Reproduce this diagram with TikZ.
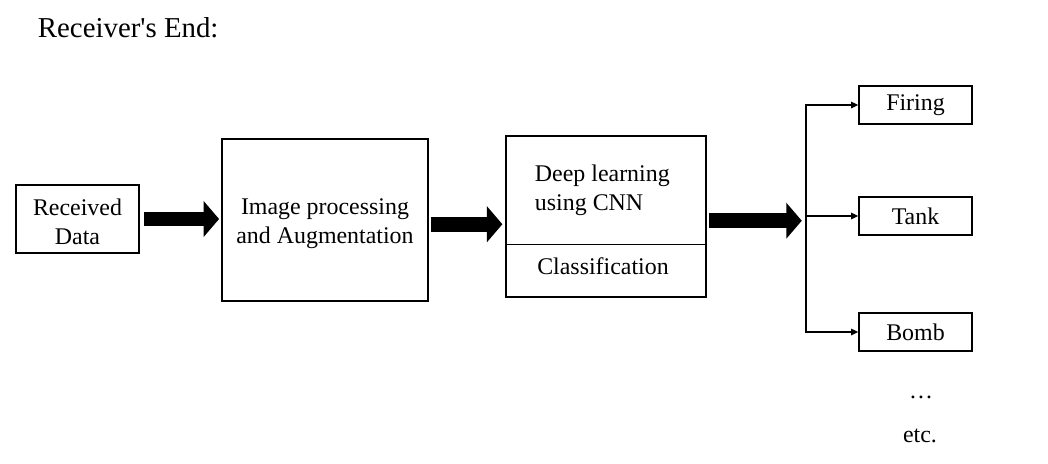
\documentclass[tikz,border=0pt]{standalone}
\usepackage{fontspec}
\setmainfont{Liberation Serif}
\usetikzlibrary{arrows.meta,positioning}

\begin{document}
\begin{tikzpicture}[x=0.025cm, y=-0.025cm,
  box/.style={rectangle, draw, line width=1.1pt, align=center,
    font=\fontsize{17}{20.5}\selectfont},
  label/.style={font=\fontsize{17}{20.5}\selectfont},
  fatarrow/.style={line width=10.5pt, -{Triangle[length=11pt,width=25pt]}},
  branch/.style={line width=1.1pt, -{Triangle[length=5pt,width=4.5pt]}},
]
  \useasboundingbox (0,0) rectangle (1048,463);

  \node[anchor=west, font=\fontsize{20.5}{24}\selectfont] (title) at (33,28)
    {Receiver\textquotesingle s End:};

  % processing chain
  \node[box, minimum width=3.075cm, minimum height=1.7cm] (recv) at (77.5,219) {};
  \node[label, align=center] (recvtext) at (77.5,222) {Received\\Data};
  \node[box, minimum width=5.15cm, minimum height=4.05cm] (img) at (325,220) {};
  \node[label, align=center] (imgtext) at (325,224) {Image processing\\and Augmentation};
  \node[box, minimum width=5cm, minimum height=4.025cm] (dl) at (606,216.5) {};
  \draw[line width=0.6pt] (dl.west |- 0,244) -- (dl.east |- 0,244);
  \node[label, align=left, anchor=west] (dltext) at (530,190) {Deep learning\\using CNN};
  \node[label] (cls) at (603,266) {Classification};

  % outputs
  \node[box, minimum width=2.825cm, minimum height=0.95cm] (firing) at (915.5,105) {Firing};
  \node[box, minimum width=2.825cm, minimum height=0.95cm] (tank) at (915.5,216) {Tank};
  \node[box, minimum width=2.825cm, minimum height=0.95cm] (bomb) at (915.5,332) {Bomb};
  \node[label] (dots) at (921,397) {\dots};
  \node[label] (etc) at (920,436) {etc.};

  \coordinate (br) at (806,216);

  \draw[fatarrow, shorten <=3pt, shorten >=1.5pt] (recv.east) -- (recv.east -| img.west);
  \draw[fatarrow, shorten <=1.5pt, shorten >=2pt] ([yshift=-3pt]img.east) -- ([yshift=-3pt]img.east -| dl.west);
  \draw[fatarrow, shorten <=1.5pt, shorten >=3pt] ([yshift=-3pt]dl.east) -- ([yshift=-3pt]dl.east -| br);

  \draw[branch] (br) |- (firing);
  \draw[branch] (br) -- (tank);
  \draw[branch] (br) |- (bomb);
\end{tikzpicture}
\end{document}
